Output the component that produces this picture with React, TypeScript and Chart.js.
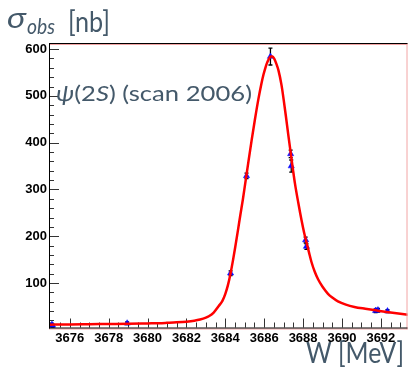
import React, { useEffect, useRef } from 'react';
import { Chart, registerables } from 'chart.js';

Chart.register(...registerables);

// Measured cross-section points (W in MeV, sigma in nb, stat. error in nb)
const pointW = [3675.08, 3675.12, 3678.95, 3684.27, 3685.09, 3686.32, 3687.36, 3687.39, 3688.13, 3688.17, 3691.73, 3691.85, 3692.34];
const pointSigma = [11, 9, 14, 121, 329, 584, 376, 350, 192, 178, 41, 42, 40];
const pointErr = [3, 3, 3, 5, 6, 18, 8, 13, 6, 6, 4, 4, 3];

// Fitted curve
const fitW = [3674.93, 3676.0, 3677.0, 3678.0, 3679.0, 3680.0, 3680.6, 3681.0, 3681.5, 3682.0, 3682.4, 3682.7, 3683.0, 3683.15, 3683.4, 3683.66, 3683.85, 3684.0, 3684.13, 3684.26, 3684.4, 3684.51, 3684.65, 3684.77, 3684.9, 3685.02, 3685.19, 3685.36, 3685.52, 3685.7, 3685.85, 3685.96, 3686.06, 3686.13, 3686.23, 3686.33, 3686.43, 3686.52, 3686.62, 3686.73, 3686.89, 3687.0, 3687.11, 3687.24, 3687.37, 3687.48, 3687.58, 3687.75, 3687.92, 3688.05, 3688.18, 3688.3, 3688.43, 3688.6, 3688.77, 3689.0, 3689.28, 3689.5, 3689.79, 3690.2, 3690.64, 3691.2, 3691.83, 3692.5, 3693.4];
const fitSigma = [11, 11.5, 12, 12.5, 13, 13.8, 14.3, 15, 16, 17.5, 19.5, 22, 26, 29, 37, 51, 62, 77, 95, 119, 150, 177, 213, 245, 278, 312, 360, 407, 449, 493, 525, 545, 560, 569, 578, 584, 584, 579, 569, 555, 523, 492, 458, 416, 376, 342, 313, 272, 234, 208, 186, 166, 145, 124, 108, 92, 77, 69, 61, 54, 49, 45, 41, 37, 32];

// Axis ranges and tick labels
const xMin = 3674.93;
const xMax = 3693.37;
const xTickValues = [3676, 3678, 3680, 3682, 3684, 3686, 3688, 3690, 3692];
const xMinor = 0.5;
const yMin = 5;
const yMax = 613;
const yTickValues = [100, 200, 300, 400, 500, 600];
const yMinor = 20;

// Texts
const yTitleSymbol = 'σ';
const yTitleSub = 'obs';
const yTitleUnit = '[nb]';
const xTitle = 'W [MeV]';
const annotation = [
  { t: 'ψ', italic: true },
  { t: '(2', italic: false },
  { t: 'S', italic: true },
  { t: ') (scan 2006)', italic: false },
];

const TEXT_COLOR = '#44596a';
const FONT = 'Lato, "DejaVu Sans", sans-serif';

function drawFitted(ctx: CanvasRenderingContext2D, text: string, x: number, y: number, width: number) {
  const w = ctx.measureText(text).width;
  ctx.save();
  ctx.translate(x, y);
  ctx.scale(width / w, 1);
  ctx.fillText(text, 0, 0);
  ctx.restore();
}

function isOn(v: number, list: number[]) {
  return list.some((t) => Math.abs(t - v) < 1e-6);
}

const decor = {
  id: 'decor',
  beforeDatasetsDraw(chart: any) {
    const ctx = chart.ctx as CanvasRenderingContext2D;
    const { left, bottom } = chart.chartArea;
    const xs = chart.scales.x;
    const ys = chart.scales.y;
    ctx.save();
    ctx.strokeStyle = '#333';
    ctx.lineWidth = 1;
    for (let v = Math.ceil(xMin / xMinor) * xMinor; v <= xMax + 1e-9; v += xMinor) {
      const px = Math.round(xs.getPixelForValue(v)) + 0.5;
      ctx.beginPath();
      ctx.moveTo(px, bottom);
      ctx.lineTo(px, bottom - (isOn(v, xTickValues) ? 9 : 5));
      ctx.stroke();
    }
    for (let v = Math.ceil(yMin / yMinor) * yMinor; v <= yMax + 1e-9; v += yMinor) {
      const py = Math.round(ys.getPixelForValue(v)) + 0.5;
      ctx.beginPath();
      ctx.moveTo(left, py);
      ctx.lineTo(left + (isOn(v, yTickValues) ? 10 : 5), py);
      ctx.stroke();
    }
    ctx.restore();
  },
  beforeDatasetDraw(chart: any, args: any) {
    if (args.index !== 1) return;
    const ctx = chart.ctx as CanvasRenderingContext2D;
    const xs = chart.scales.x;
    const ys = chart.scales.y;
    ctx.save();
    ctx.strokeStyle = '#000';
    ctx.lineWidth = 1.3;
    for (let i = 0; i < pointW.length; i++) {
      const px = xs.getPixelForValue(pointW[i]);
      const pTop = ys.getPixelForValue(pointSigma[i] + pointErr[i]);
      const pBot = ys.getPixelForValue(pointSigma[i] - pointErr[i]);
      ctx.beginPath();
      ctx.moveTo(px, pTop);
      ctx.lineTo(px, pBot);
      ctx.moveTo(px - 2, pTop);
      ctx.lineTo(px + 2, pTop);
      ctx.moveTo(px - 2, pBot);
      ctx.lineTo(px + 2, pBot);
      ctx.stroke();
    }
    ctx.restore();
  },
  afterDraw(chart: any) {
    const ctx = chart.ctx as CanvasRenderingContext2D;
    const { left, right, top, bottom } = chart.chartArea;
    ctx.save();
    ctx.lineWidth = 1;
    ctx.strokeStyle = '#f2a4a4';
    ctx.beginPath();
    ctx.moveTo(right - 0.5, top);
    ctx.lineTo(right - 0.5, bottom + 2);
    ctx.moveTo(left, bottom + 1.5);
    ctx.lineTo(right, bottom + 1.5);
    ctx.moveTo(left, top + 1.5);
    ctx.lineTo(right, top + 1.5);
    ctx.stroke();
    ctx.strokeStyle = '#000';
    ctx.beginPath();
    ctx.moveTo(left, top + 0.5);
    ctx.lineTo(right, top + 0.5);
    ctx.moveTo(left + 0.5, top);
    ctx.lineTo(left + 0.5, bottom + 1);
    ctx.moveTo(left, bottom + 0.5);
    ctx.lineTo(right, bottom + 0.5);
    ctx.stroke();

    ctx.fillStyle = TEXT_COLOR;
    ctx.textBaseline = 'alphabetic';
    ctx.textAlign = 'left';
    ctx.font = `italic 28px ${FONT}`;
    drawFitted(ctx, yTitleSymbol, 7, 28, 19);
    ctx.font = `italic 21px ${FONT}`;
    drawFitted(ctx, yTitleSub, 27, 34, 28);
    ctx.font = `29px ${FONT}`;
    drawFitted(ctx, yTitleUnit, 68, 32, 42);

    ctx.font = `28px ${FONT}`;
    drawFitted(ctx, xTitle, 306, 363, 98);

    let total = 0;
    const widths = annotation.map((p) => {
      ctx.font = `${p.italic ? 'italic ' : ''}22px ${FONT}`;
      const w = ctx.measureText(p.t).width;
      total += w;
      return w;
    });
    const k = 196 / total;
    let cx = 56;
    annotation.forEach((p, i) => {
      ctx.font = `${p.italic ? 'italic ' : ''}22px ${FONT}`;
      drawFitted(ctx, p.t, cx, 101, widths[i] * k);
      cx += widths[i] * k;
    });
    ctx.restore();
  },
};

export default function App() {
  const ref = useRef<HTMLCanvasElement | null>(null);
  useEffect(() => {
    if (!ref.current) return;
    const tickFont = { family: '"Liberation Sans", Arial, sans-serif', size: 13, weight: 'bold' };
    const chart = new Chart(ref.current, {
      type: 'scatter',
      data: {
        datasets: [
          {
            type: 'line',
            data: fitW.map((w, i) => ({ x: w, y: fitSigma[i] })),
            borderColor: '#ff0000',
            borderWidth: 2.5,
            pointRadius: 0,
            fill: false,
            cubicInterpolationMode: 'monotone',
          } as any,
          {
            type: 'scatter',
            data: pointW.map((w, i) => ({ x: w, y: pointSigma[i] })),
            pointStyle: 'triangle',
            pointRadius: 3.6,
            backgroundColor: '#0a0aff',
            borderColor: '#0a0aff',
            borderWidth: 0.5,
          } as any,
        ],
      },
      options: {
        responsive: false,
        animation: false,
        devicePixelRatio: 1,
        layout: { padding: { top: 43, right: 2, left: 0, bottom: 0 } },
        plugins: { legend: { display: false }, tooltip: { enabled: false }, title: { display: false } },
        scales: {
          x: {
            type: 'linear',
            min: xMin,
            max: xMax,
            grid: { display: false, drawTicks: false },
            border: { display: false },
            afterBuildTicks: (s: any) => { s.ticks = xTickValues.map((v) => ({ value: v })); },
            ticks: {
              padding: 3,
              color: '#000',
              font: tickFont,
              callback: (v: any) => String(v),
              maxRotation: 0,
              autoSkip: false,
            },
            afterFit: (s: any) => { s.height = 41.5; },
          },
          y: {
            type: 'linear',
            min: yMin,
            max: yMax,
            grid: { display: false, drawTicks: false },
            border: { display: false },
            afterBuildTicks: (s: any) => { s.ticks = yTickValues.map((v) => ({ value: v })); },
            ticks: {
              padding: 2,
              color: '#000',
              font: tickFont,
              callback: (v: any) => String(v),
              autoSkip: false,
            },
            afterFit: (s: any) => { s.width = 49; },
          },
        },
      } as any,
      plugins: [decor],
    });
    return () => chart.destroy();
  }, []);
  return (
    <div style={{ position: 'absolute', left: 0, top: 0, width: 412, height: 369, background: '#fff' }}>
      <canvas ref={ref} width={412} height={369} style={{ display: 'block' }} />
    </div>
  );
}
